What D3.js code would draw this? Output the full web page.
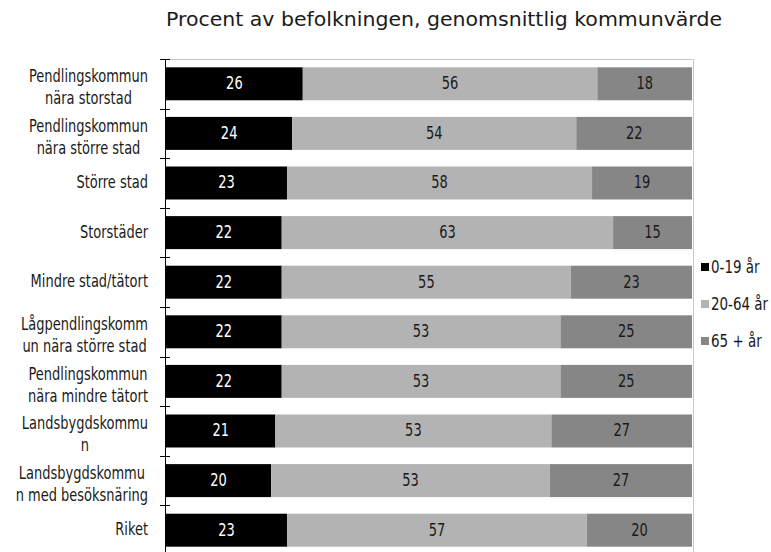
<!DOCTYPE html>
<html>
<head>
<meta charset="utf-8">
<script src="https://cdn.jsdelivr.net/npm/d3@7"></script>
<style>
  body { margin: 0; background: #fff; }
  svg text { font-family: "DejaVu Sans Condensed", "Liberation Sans Narrow", sans-serif; fill: #1a1a1a; }
  svg text.title { font-family: "DejaVu Sans", sans-serif; }
</style>
</head>
<body>
<svg width="771" height="552"></svg>
<script>
'use strict';

// categories (label lines as they wrap in the original)
var categories = [
  ["Pendlingskommun", "nära storstad"],
  ["Pendlingskommun", "nära större stad"],
  ["Större stad"],
  ["Storstäder"],
  ["Mindre stad/tätort"],
  ["Lågpendlingskomm", "un nära större stad"],
  ["Pendlingskommun", "nära mindre tätort"],
  ["Landsbygdskommu", "n"],
  ["Landsbygdskommu", "n med besöksnäring"],
  ["Riket"]
];

var seriesNames = ["0-19 år", "20-64 år", "65 + år"];
var young  = [26, 24, 23, 22, 22, 22, 22, 21, 20, 23];
var middle = [56, 54, 58, 63, 55, 53, 53, 53, 53, 57];
var old    = [18, 22, 19, 15, 23, 25, 25, 27, 27, 20];

var colors = ["#000000", "#b3b3b3", "#868686"];
var textColors = ["#ffffff", "#1a1a1a", "#1a1a1a"];

var rows = categories.map(function(c, i) {
  return { key: i, label: c, v0: young[i], v1: middle[i], v2: old[i] };
});

// narrow font look: larger size squeezed horizontally
var fs = 17, squeeze = 0.85;

var svg = d3.select("svg");

var margin = {top: 59, left: 166, right: 79},
    width = 771 - margin.left - margin.right,
    height = 496;

var g = svg.append("g")
  .attr("transform", "translate(" + margin.left + "," + margin.top + ")");

var x = d3.scaleLinear().domain([0, 1]).range([0, width]);
var y = d3.scaleBand()
  .domain(rows.map(function(d) { return d.key; }))
  .range([0, height])
  .paddingInner(0.335)
  .paddingOuter(0.1675);

var stack = d3.stack()
  .keys(["v0", "v1", "v2"])
  .offset(d3.stackOffsetExpand);
var layers = stack(rows);

// plot frame (top & right)
g.append("path")
  .attr("d", "M0,0.5 H" + (width + 1.5) + " V" + height)
  .attr("fill", "none")
  .attr("stroke", "#c8c8c8")
  .attr("stroke-width", 1);

var layer = g.selectAll(".layer")
  .data(layers)
  .enter()
  .append("g")
  .attr("class", "layer");

layer.selectAll("rect")
  .data(function(d) { return d; })
  .enter()
  .append("rect")
  .attr("fill", function() { return colors[d3.select(this.parentNode).datum().index]; })
  .attr("x", function(d) { return x(d[0]); })
  .attr("y", function(d) { return y(d.data.key); })
  .attr("width", function(d) { return x(d[1]) - x(d[0]); })
  .attr("height", y.bandwidth());

layer.selectAll("text")
  .data(function(d) { return d.map(function(p) { return {p: p, k: d.key, i: d.index}; }); })
  .enter()
  .append("text")
  .attr("transform", function(d) {
    return "translate(" + x((d.p[0] + d.p[1]) / 2) + "," + (y(d.p.data.key) + y.bandwidth() / 2) + ") scale(" + squeeze + ",1)";
  })
  .attr("dy", "0.32em")
  .attr("text-anchor", "middle")
  .attr("font-size", fs)
  .style("fill", function(d) { return textColors[d.i]; })
  .text(function(d) { return d.p.data[d.k]; });

// left axis line and ticks between categories
g.append("line")
  .attr("x1", -0.5).attr("x2", -0.5)
  .attr("y1", 0).attr("y2", height)
  .attr("stroke", "#000");

var step = y.step();
var tickYs = d3.range(rows.length + 1).map(function(i) { return Math.round(i * step) + 0.5; });
g.selectAll(".tick")
  .data(tickYs)
  .enter()
  .append("line")
  .attr("x1", -6).attr("x2", 4)
  .attr("y1", function(d) { return d; })
  .attr("y2", function(d) { return d; })
  .attr("stroke", "#000");

// category labels: block right-aligned, wrapped lines centred within it
var labels = g.selectAll(".cat")
  .data(rows)
  .enter()
  .append("g")
  .attr("class", "cat")
  .attr("transform", function(d) {
    return "translate(-18," + (y(d.key) + y.bandwidth() / 2) + ") scale(" + squeeze + ",1)";
  });

labels.each(function(d) {
  var grp = d3.select(this);
  var n = d.label.length;
  var texts = d.label.map(function(t, j) {
    return grp.append("text")
      .attr("font-size", fs)
      .attr("y", n === 1 ? 0 : (j === 0 ? -0.1 * fs : 1.2 * fs))
      .attr("dy", n === 1 ? "0.3em" : 0)
      .text(t);
  });
  var w = d3.max(texts, function(t) { return t.node().getComputedTextLength(); });
  texts.forEach(function(t) {
    t.attr("text-anchor", "middle").attr("x", -w / 2);
  });
});

// title
svg.append("text")
  .attr("class", "title")
  .attr("x", 444)
  .attr("y", 26)
  .attr("text-anchor", "middle")
  .attr("font-size", 20)
  .attr("textLength", 556)
  .attr("lengthAdjust", "spacingAndGlyphs")
  .text("Procent av befolkningen, genomsnittlig kommunvärde");

// legend
var legend = svg.selectAll(".legend")
  .data(seriesNames)
  .enter()
  .append("g")
  .attr("class", "legend")
  .attr("transform", function(d, i) { return "translate(701," + (267 + i * 37) + ")"; });

legend.append("rect")
  .attr("x", 0).attr("y", -4)
  .attr("width", 8).attr("height", 8)
  .attr("fill", function(d, i) { return colors[i]; });

legend.append("text")
  .attr("transform", "translate(10,0) scale(0.88,1)")
  .attr("dy", "0.35em")
  .attr("font-size", fs)
  .text(function(d) { return d; });
</script>
</body>
</html>
